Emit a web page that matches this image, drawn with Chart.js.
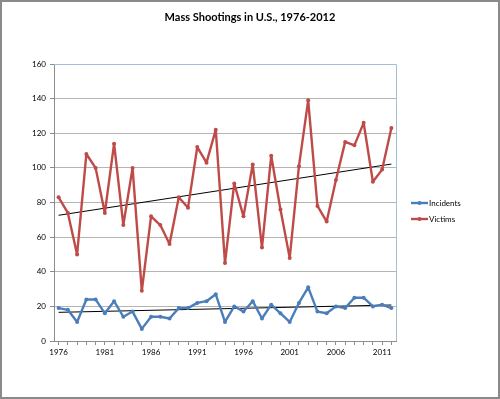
<!DOCTYPE html>
<html>
<head>
<meta charset="utf-8">
<script src="https://cdn.jsdelivr.net/npm/chart.js@4.4.1/dist/chart.umd.min.js"></script>
<style>
  html, body { margin: 0; padding: 0; background: #fff; }
  #wrap { width: 500px; height: 399px; }
</style>
</head>
<body>
<div id="wrap"><canvas id="chart" width="500" height="399"></canvas></div>
<script>
const chartTitle = "Mass Shootings in U.S., 1976-2012";
const years = [1976, 1977, 1978, 1979, 1980, 1981, 1982, 1983, 1984, 1985,
  1986, 1987, 1988, 1989, 1990, 1991, 1992, 1993, 1994, 1995,
  1996, 1997, 1998, 1999, 2000, 2001, 2002, 2003, 2004, 2005,
  2006, 2007, 2008, 2009, 2010, 2011, 2012];
const incidents = [19, 18, 11, 24, 24, 16, 23, 14, 17, 7,
  14, 14, 13, 19, 19, 22, 23, 27, 11, 20,
  17, 23, 13, 21, 16, 11, 22, 31, 17, 16,
  20, 19, 25, 25, 20, 21, 19];
const victims = [83, 74, 50, 108, 100, 74, 114, 67, 100, 29,
  72, 67, 56, 83, 77, 112, 103, 122, 45, 91,
  72, 102, 54, 107, 76, 48, 101, 139, 78, 69,
  93, 115, 113, 126, 92, 99, 123];
const xTickLabels = [1976, 1981, 1986, 1991, 1996, 2001, 2006, 2011];
const yTicks = [0, 20, 40, 60, 80, 100, 120, 140, 160];
const seriesNames = ["Incidents", "Victims"];

const blue = "#4a7ebb";
const red = "#be4b48";
const font = 'Lato, "Open Sans", sans-serif';

// least squares line, like the Excel trendline
function trend(xs, ys) {
  const n = xs.length;
  let sx = 0, sy = 0, sxy = 0, sxx = 0;
  for (let i = 0; i < n; i++) {
    sx += xs[i]; sy += ys[i]; sxy += xs[i] * ys[i]; sxx += xs[i] * xs[i];
  }
  const b = (n * sxy - sx * sy) / (n * sxx - sx * sx);
  const a = (sy - b * sx) / n;
  const x0 = xs[0], x1 = xs[n - 1];
  return [{ x: x0, y: a + b * x0 }, { x: x1, y: a + b * x1 }];
}

function points(ys) {
  return years.map((y, i) => ({ x: y, y: ys[i] }));
}

const framePlugin = {
  id: 'frame',
  beforeDraw(chart) {
    const ctx = chart.ctx;
    ctx.save();
    ctx.fillStyle = '#fff';
    ctx.fillRect(0, 0, chart.width, chart.height);
    ctx.restore();
  },
  afterDatasetsDraw(chart) {
    const ctx = chart.ctx;
    const a = chart.chartArea;
    ctx.save();
    // light blue edge of the plot area
    ctx.strokeStyle = '#a3bddb';
    ctx.lineWidth = 1;
    ctx.beginPath();
    ctx.moveTo(a.left, a.top + 0.5);
    ctx.lineTo(a.right + 0.5, a.top + 0.5);
    ctx.lineTo(a.right + 0.5, a.bottom);
    ctx.stroke();
    ctx.restore();
  },
  afterDraw(chart) {
    const ctx = chart.ctx;
    ctx.save();
    // outer frame
    ctx.strokeStyle = '#8a8a8a';
    ctx.lineWidth = 2;
    ctx.strokeRect(1, 1, chart.width - 2, chart.height - 2);

    // title
    ctx.fillStyle = '#000';
    ctx.font = 'bold 11px ' + font;
    ctx.textAlign = 'center';
    ctx.textBaseline = 'middle';
    ctx.fillText(chartTitle, 250, 17);

    // legend
    const colors = [blue, red];
    ctx.font = '8px ' + font;
    ctx.textAlign = 'left';
    seriesNames.forEach((name, i) => {
      const y = 203 + i * 16;
      ctx.strokeStyle = colors[i];
      ctx.lineWidth = 2.4;
      ctx.beginPath();
      ctx.moveTo(411, y);
      ctx.lineTo(428, y);
      ctx.stroke();
      ctx.fillStyle = colors[i];
      ctx.beginPath();
      ctx.arc(419.5, y, 2, 0, Math.PI * 2);
      ctx.fill();
      ctx.fillStyle = '#000';
      ctx.fillText(name, 429, y);
    });
    ctx.restore();
  }
};

function seriesStyle(color) {
  return {
    borderColor: color,
    backgroundColor: color,
    borderWidth: 2.4,
    borderJoinStyle: 'round',
    borderCapStyle: 'round',
    pointRadius: 2,
    pointHoverRadius: 2,
    pointBorderWidth: 0,
    tension: 0
  };
}

new Chart(document.getElementById('chart'), {
  type: 'line',
  data: {
    datasets: [
      Object.assign({ label: seriesNames[0], data: points(incidents) }, seriesStyle(blue)),
      Object.assign({ label: seriesNames[1], data: points(victims) }, seriesStyle(red)),
      {
        label: 'Incidents trend',
        data: trend(years, incidents),
        borderColor: '#000',
        borderWidth: 1,
        pointRadius: 0
      },
      {
        label: 'Victims trend',
        data: trend(years, victims),
        borderColor: '#000',
        borderWidth: 1,
        pointRadius: 0
      }
    ]
  },
  options: {
    responsive: false,
    animation: false,
    layout: { padding: { left: 0, top: 64, right: 104, bottom: 38 } },
    plugins: {
      legend: { display: false },
      title: { display: false },
      tooltip: { enabled: false }
    },
    scales: {
      x: {
        type: 'linear',
        min: years[0] - 0.5,
        max: years[years.length - 1] + 0.5,
        afterBuildTicks(scale) {
          scale.ticks = years.map(v => ({ value: v }));
        },
        afterFit(scale) { scale.height = 20; },
        border: { color: '#8c8c8c', width: 1 },
        grid: {
          drawOnChartArea: false,
          drawTicks: true,
          tickLength: 4,
          color: '#8c8c8c'
        },
        ticks: {
          autoSkip: false,
          maxRotation: 0,
          padding: 3,
          color: '#000',
          font: { family: font, size: 8 },
          callback(v) { return xTickLabels.includes(v) ? String(v) : ''; }
        }
      },
      y: {
        min: 0,
        max: 160,
        afterBuildTicks(scale) {
          scale.ticks = yTicks.map(v => ({ value: v }));
        },
        afterFit(scale) { scale.width = 54; },
        border: { color: '#8c8c8c', width: 1 },
        grid: {
          color: '#b4b4b4',
          tickLength: 4,
          tickColor: '#8c8c8c'
        },
        ticks: {
          padding: 4,
          color: '#000',
          font: { family: font, size: 8 }
        }
      }
    }
  },
  plugins: [framePlugin]
});
</script>
</body>
</html>
